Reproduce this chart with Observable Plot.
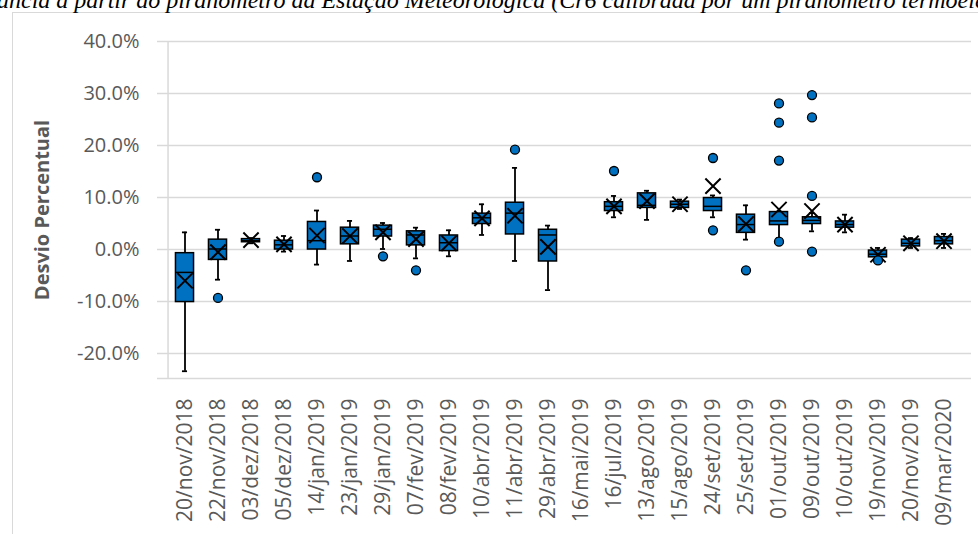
<!DOCTYPE html>
<html>
<head>
<meta charset="utf-8">
<script src="https://cdn.jsdelivr.net/npm/d3@7"></script>
<script src="https://cdn.jsdelivr.net/npm/@observablehq/plot@0.6"></script>
<style>
  html, body { margin: 0; padding: 0; width: 978px; height: 534px; overflow: hidden; background: #fff; }
  #frame { position: absolute; left: 12px; top: 12px; width: 1100px; height: 700px; border-left: 1.5px solid #d9d9d9; border-top: 1.5px solid #d9d9d9; }
  #title { position: absolute; left: -3px; top: -12px; white-space: nowrap; font: italic 24px "Liberation Serif", "Times New Roman", serif; line-height: 1; color: #000; }
  #chart { position: absolute; left: 0; top: 0; }
</style>
</head>
<body>
<div id="frame"></div>
<div id="title">ância a partir do piranômetro da Estação Meteorológica (Cr6 calibrada por um piranômetro termoelétrico)</div>
<div id="chart"></div>
<script>
// Categories (measurement dates)
const categories = ["20/nov/2018","22/nov/2018","03/dez/2018","05/dez/2018","14/jan/2019","23/jan/2019","29/jan/2019","07/fev/2019","08/fev/2019","10/abr/2019","11/abr/2019","29/abr/2019","16/mai/2019","16/jul/2019","13/ago/2019","15/ago/2019","24/set/2019","25/set/2019","01/out/2019","09/out/2019","10/out/2019","19/nov/2019","20/nov/2019","09/mar/2020"];
// Box statistics in percent
const mins    = [-23.4, -5.8, 1.2, -0.4, -2.9, -2.2, 0.1, -1.7, -1.3, 2.8, -2.2, -7.8, null, 6.2, 5.7, 7.8, 6.2, 1.9, 2.2, 3.5, 3.3, -1.7, 0.3, 0.3];
const q1s     = [-10.1, -2.0, 1.4, 0.0, 0.0, 1.0, 2.5, 0.8, -0.3, 4.9, 2.9, -2.3, null, 7.4, 8.0, 8.0, 7.4, 3.2, 4.7, 4.9, 4.2, -1.5, 0.6, 1.0];
const medians = [-4.4, 0.1, 1.7, 0.9, 1.7, 2.6, 3.9, 2.8, 1.3, 6.1, 7.0, 2.8, null, 8.3, 8.5, 8.7, 8.3, 4.8, 5.5, 5.6, 4.8, -0.9, 1.2, 1.7];
const q3s     = [-0.7, 1.9, 2.0, 1.7, 5.3, 4.2, 4.6, 3.5, 2.7, 6.9, 9.0, 3.8, null, 9.1, 10.8, 9.2, 9.9, 6.7, 7.2, 6.2, 5.4, -0.2, 1.9, 2.4];
const maxs    = [3.3, 3.8, 2.2, 2.6, 7.5, 5.5, 5.1, 4.2, 3.7, 8.7, 15.7, 4.6, null, 10.3, 11.3, 9.6, 10.4, 8.5, 7.2, 7.0, 6.7, 0.3, 2.2, 3.0];
const means   = [-6.0, -0.5, 1.8, 1.0, 2.7, 2.6, 3.3, 2.0, 1.2, 6.0, 6.5, 0.5, null, 8.3, 9.3, 8.7, 12.2, 4.9, 7.7, 7.4, 4.8, -1.0, 1.2, 1.6];
const outliers = [[], [-9.3], [], [], [13.9], [], [-1.3], [-4.0], [], [], [19.2], [], [], [15.1], [], [], [17.6, 3.7], [-4.0], [28.1, 24.4, 17.1, 1.5], [29.7, 25.4, 10.3, -0.4], [], [-2.1], [], []];
const yTicks = [-0.2, -0.1, 0, 0.1, 0.2, 0.3, 0.4];
const yLabel = "Desvio Percentual";

const pct = v => v / 100;
const rows = categories.map((c, i) => ({cat: c, min: mins[i], q1: q1s[i], med: medians[i], q3: q3s[i], max: maxs[i], mean: means[i]})).filter(d => d.q1 != null);
const outs = categories.flatMap((c, i) => outliers[i].map(v => ({cat: c, v})));

const W = 978, H = 534, mL = 157, mR = 7, mT = 41, mB = 156;
const yMin = -0.248;
const bw = (W - mL - mR) / categories.length;
const boxInset = (bw - 19) / 2;
const capInset = (bw - 6) / 2;
const grid = "#d9d9d9";

const chart = Plot.plot({
  width: W, height: H,
  marginLeft: mL, marginRight: mR, marginTop: mT, marginBottom: mB,
  style: {fontFamily: "'Open Sans', sans-serif", fontSize: "20px", color: "#595959", background: "transparent", overflow: "visible"},
  x: {type: "band", domain: categories, padding: 0, label: null, tickRotate: -90, tickSize: 0, tickPadding: 20},
  y: {domain: [yMin, 0.40], ticks: yTicks, tickFormat: d => (d * 100).toFixed(1) + "%", tickSize: 0, tickPadding: 18, label: null},
  marks: [
    Plot.ruleY(yTicks, {stroke: grid, strokeWidth: 1.5}),
    Plot.ruleY([yMin], {stroke: grid, strokeWidth: 1.5}),
    Plot.ruleX([categories[0]], {dx: -bw / 2, stroke: grid, strokeWidth: 1.5}),
    Plot.ruleX(rows, {x: "cat", y1: d => pct(d.min), y2: d => pct(d.q1), stroke: "black", strokeWidth: 1.8}),
    Plot.ruleX(rows, {x: "cat", y1: d => pct(d.q3), y2: d => pct(d.max), stroke: "black", strokeWidth: 1.8}),
    Plot.tickY(rows, {x: "cat", y: d => pct(d.min), insetLeft: capInset, insetRight: capInset, stroke: "black", strokeWidth: 1.8}),
    Plot.tickY(rows, {x: "cat", y: d => pct(d.max), insetLeft: capInset, insetRight: capInset, stroke: "black", strokeWidth: 1.8}),
    Plot.barY(rows, {x: "cat", y1: d => pct(d.q1), y2: d => pct(d.q3), insetLeft: boxInset, insetRight: boxInset, fill: "#0070C0", stroke: "black", strokeWidth: 1.5}),
    Plot.tickY(rows, {x: "cat", y: d => pct(d.med), insetLeft: boxInset, insetRight: boxInset, stroke: "black", strokeWidth: 1.5}),
    Plot.dot(rows, {x: "cat", y: d => pct(d.mean), symbol: "times", r: 7, stroke: "black", strokeWidth: 2}),
    Plot.dot(outs, {x: "cat", y: d => pct(d.v), r: 4.5, fill: "#0070C0", stroke: "black", strokeWidth: 1.3}),
    Plot.text([yLabel], {frameAnchor: "left", dx: -115, rotate: -90, textAnchor: "middle", text: d => d, fontWeight: "bold", fontSize: 20, fill: "#595959"})
  ]
});
chart.querySelectorAll("g[aria-label='x-axis tick label'] text, g[aria-label='x-axis'] text").forEach(t => t.style.fontSize = "21px");
document.getElementById("chart").appendChild(chart);
</script>
</body>
</html>
